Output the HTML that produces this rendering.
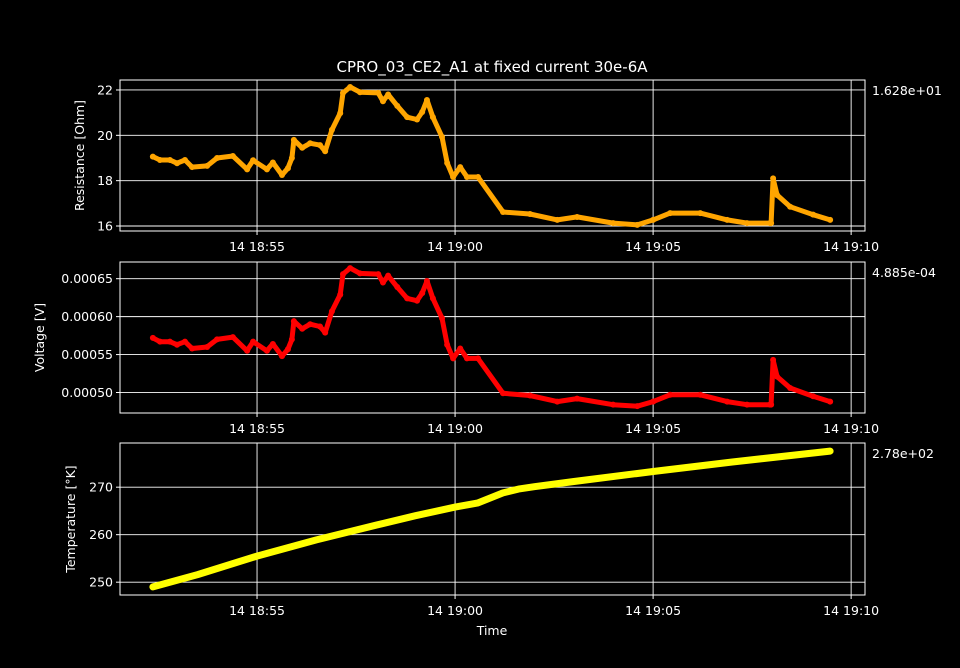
<!DOCTYPE html>
<html><head><meta charset="utf-8"><style>
html,body{margin:0;padding:0;background:#000;}
svg{display:block;font-family:"DejaVu Sans","Liberation Sans",sans-serif;}
</style></head><body>
<svg id="chart" width="960" height="668" viewBox="0 0 960 668" xmlns="http://www.w3.org/2000/svg">
<rect x="0" y="0" width="960" height="668" fill="#000"/>
<text x="492" y="72" fill="#fff" font-size="15" text-anchor="middle">CPRO_03_CE2_A1 at fixed current 30e-6A</text>
<text x="492" y="635" fill="#fff" font-size="12.5" text-anchor="middle">Time</text>
</svg>
<script>
// time in minutes after 18:50
const resTimes = [2.37,2.55,2.80,2.98,3.18,3.36,3.74,3.99,4.39,4.75,4.90,5.25,5.40,5.63,5.78,5.88,5.93,6.14,6.34,6.59,6.72,6.89,7.10,7.17,7.35,7.60,8.06,8.18,8.31,8.54,8.79,9.04,9.17,9.29,9.44,9.67,9.80,9.95,10.13,10.30,10.58,11.21,11.89,12.58,13.08,13.99,14.60,15.0,15.43,16.19,16.87,17.37,17.95,17.98,18.03,18.13,18.46,19.04,19.47];
const resistance = [19.06,18.91,18.91,18.77,18.91,18.6,18.65,19.0,19.09,18.5,18.9,18.5,18.8,18.25,18.55,19.0,19.8,19.45,19.65,19.57,19.3,20.24,20.98,21.87,22.13,21.9,21.87,21.5,21.8,21.3,20.8,20.7,21.03,21.56,20.8,19.93,18.78,18.16,18.6,18.16,18.16,16.62,16.53,16.27,16.4,16.13,16.05,16.27,16.57,16.57,16.27,16.13,16.13,16.13,18.1,17.37,16.85,16.5,16.27];
const voltage = [0.000572,0.000567,0.000567,0.000563,0.000567,0.000558,0.000560,0.000570,0.000573,0.000555,0.000567,0.000555,0.000564,0.000548,0.000557,0.000570,0.000594,0.000584,0.000590,0.000587,0.000579,0.000607,0.000629,0.000656,0.000664,0.000657,0.000656,0.000645,0.000654,0.000639,0.000624,0.000621,0.000631,0.000647,0.000624,0.000598,0.000563,0.000545,0.000558,0.000545,0.000545,0.000499,0.000496,0.000488,0.000492,0.000484,0.000482,0.000488,0.000497,0.000497,0.000488,0.000484,0.000484,0.000484,0.000543,0.000521,0.000506,0.000495,0.000488];
const tempTimes = [2.37,3.5,5.0,6.5,8.0,9.0,10.0,10.58,11.21,11.6,12.0,13.0,15.0,17.0,19.47];
const temperature = [249.0,251.6,255.5,258.9,262.0,264.0,265.8,266.7,268.8,269.6,270.1,271.2,273.3,275.3,277.6];
const xTicks = [5,10,15,20];
const xTickLabels = ["14 18:55","14 19:00","14 19:05","14 19:10"];
const resTicks = [16,18,20,22];
const voltTicks = [0.0005,0.00055,0.0006,0.00065];
const voltTickLabels = ["0.00050","0.00055","0.00060","0.00065"];
const tempTicks = [250,260,270];

const NS="http://www.w3.org/2000/svg";
const svg=document.getElementById('chart');
const X0=120,X1=865,T0=1.54,T1=20.35;
const xs=t=>X0+(t-T0)/(T1-T0)*(X1-X0);
function mk(tag,attrs,parent){const e=document.createElementNS(NS,tag);for(const k in attrs)e.setAttribute(k,attrs[k]);(parent||svg).appendChild(e);return e;}

const panels=[
 {top:80,bot:231,lo:15.78,hi:22.44,ticks:resTicks,labels:resTicks.map(String),times:resTimes,vals:resistance,color:"#ffa500",title:"Resistance [Ohm]",tx:84,offset:"1.628e+01",name:"resistance",sw:5},
 {top:262,bot:413,lo:0.000473,hi:0.000672,ticks:voltTicks,labels:voltTickLabels,times:resTimes,vals:voltage,color:"#ff0000",title:"Voltage [V]",tx:44,offset:"4.885e-04",name:"voltage",sw:5},
 {top:443,bot:595,lo:247.3,hi:279.3,ticks:tempTicks,labels:tempTicks.map(String),times:tempTimes,vals:temperature,color:"#ffff00",title:"Temperature [°K]",tx:75,offset:"2.78e+02",name:"temperature",sw:7}
];
panels.forEach(p=>{
 const ys=v=>p.bot-(v-p.lo)/(p.hi-p.lo)*(p.bot-p.top);
 const g=mk('g',{});
 
 
 mk('rect',{x:X0,y:p.top,width:X1-X0,height:p.bot-p.top,fill:'none',stroke:'#fff','stroke-width':1},g);
 xTicks.forEach((t,i)=>{
  const x=xs(t);
  mk('line',{x1:x,x2:x,y1:p.top,y2:p.bot,stroke:'#fff','stroke-width':0.9},g);
  mk('line',{x1:x,x2:x,y1:p.bot,y2:p.bot+4,stroke:'#fff'},g);
  const tl=mk('text',{x:x,y:p.bot+20,fill:'#fff','font-size':12.5,'text-anchor':'middle'},g);
  tl.textContent=xTickLabels[i];
  
  
 });
 p.ticks.forEach((v,i)=>{
  const y=ys(v);
  mk('line',{x1:X0,x2:X1,y1:y,y2:y,stroke:'#fff','stroke-width':0.9},g);
  mk('line',{x1:X0-4,x2:X0,y1:y,y2:y,stroke:'#fff'},g);
  const tl=mk('text',{x:X0-7,y:y+4.5,fill:'#fff','font-size':12.5,'text-anchor':'end'},g);
  tl.textContent=p.labels[i];
  
  
 });
 const yt=mk('text',{x:p.tx,y:(p.top+p.bot)/2,fill:'#fff','font-size':12.5,'text-anchor':'middle',transform:`rotate(-90 ${p.tx} ${(p.top+p.bot)/2})`},g);
 yt.textContent=p.title;
 
 
 const ot=mk('text',{x:872,y:p.top+15,fill:'#fff','font-size':12.5},g);
 ot.textContent=p.offset;
 
 
 const pts=p.times.map((t,i)=>xs(t).toFixed(1)+','+ys(p.vals[i]).toFixed(1)).join(' ');
 const line=mk('polyline',{points:pts,fill:'none',stroke:p.color,'stroke-width':p.sw,'stroke-linejoin':'round','stroke-linecap':'round'},g);
 
 
 p.times.forEach((t,i)=>{
  const c=mk('circle',{cx:xs(t),cy:ys(p.vals[i]),r:3,fill:p.color},g);
  
  
 });
});
</script>
</body></html>
